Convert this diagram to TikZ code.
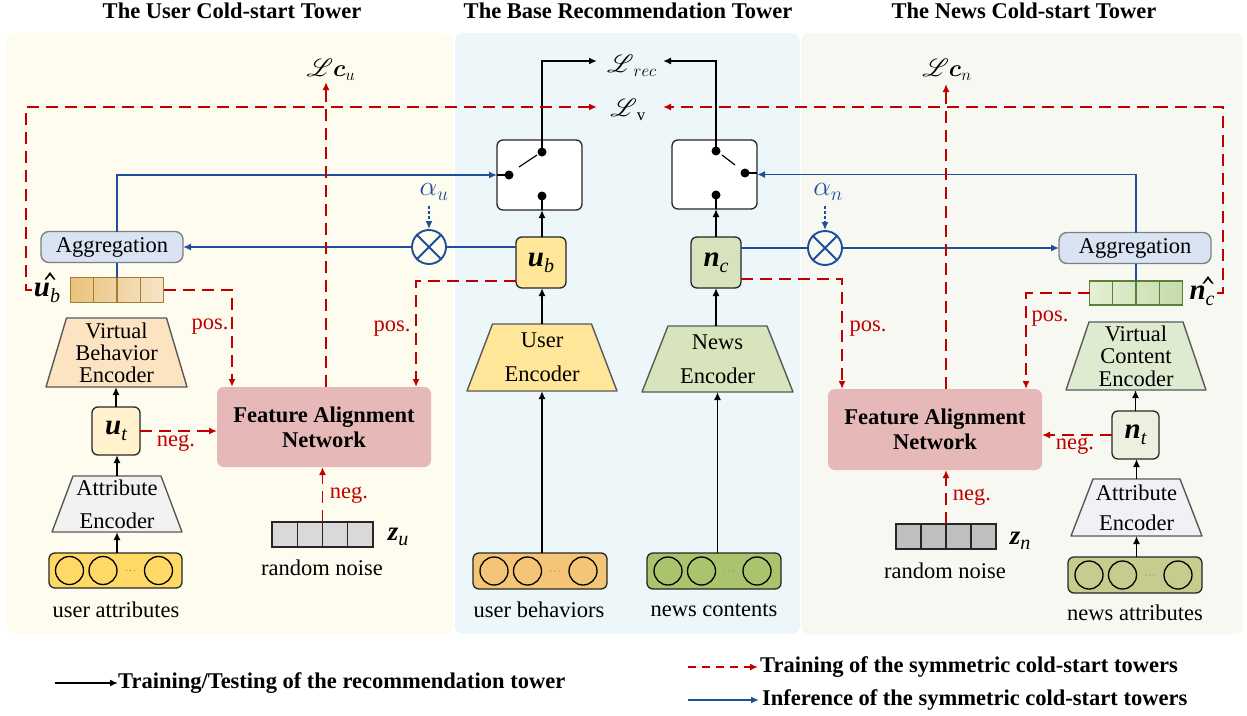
\RequirePackage{fix-cm}
\documentclass[tikz,border=0pt]{standalone}
\usepackage{amsmath}
\usepackage{mathrsfs}
\usepackage{fontspec}
\setmainfont{Liberation Serif}
\usetikzlibrary{arrows.meta,calc}
\pgfdeclarelayer{bg}\pgfdeclarelayer{mid}\pgfsetlayers{bg,mid,main}
\definecolor{redc}{HTML}{C00000}
\definecolor{bluc}{HTML}{1F4E9B}
\definecolor{boxc}{HTML}{262626}
\definecolor{trapc}{HTML}{595959}
\definecolor{aggc}{HTML}{7F7F7F}
\definecolor{leftbg}{HTML}{FEFCEF}
\definecolor{midbg}{HTML}{EDF6F9}
\definecolor{rightbg}{HTML}{F8F8F3}
\definecolor{ubfill}{HTML}{FFE699}
\definecolor{ncfill}{HTML}{D6E3BC}
\definecolor{utfill}{HTML}{FFF2CC}
\definecolor{ntfill}{HTML}{EBF1DE}
\definecolor{aggfill}{HTML}{DAE3F3}
\definecolor{fanfill}{HTML}{E6B8B7}
\definecolor{vbefill}{HTML}{FCE4C2}
\definecolor{vcefill}{HTML}{DEEBD0}
\definecolor{aefill}{HTML}{F2F2F2}
\definecolor{aefillb}{HTML}{F1F1F5}
\definecolor{uefill}{HTML}{FFE699}
\definecolor{nefill}{HTML}{D8E4BC}
\definecolor{uattr}{HTML}{FFD966}
\definecolor{ubeh}{HTML}{F4C477}
\definecolor{ncon}{HTML}{A9C46D}
\definecolor{nattr}{HTML}{C6CB8E}
\definecolor{zufill}{HTML}{D9D9D9}
\definecolor{znfill}{HTML}{BFBFBF}
\definecolor{ubhA}{HTML}{EBC27A}
\definecolor{ubhB}{HTML}{F6E4C8}
\definecolor{ubhD}{HTML}{A08030}
\definecolor{nchA}{HTML}{E4F0D4}
\definecolor{nchB}{HTML}{C4DCAC}
\definecolor{nchD}{HTML}{5E7F3A}
\newcommand{\bv}[2]{{\fontsize{29}{29}\selectfont\bfseries\itshape #1}\raisebox{-6pt}{\fontsize{20}{20}\selectfont\itshape #2}}
\newcommand{\zv}[2]{{\fontsize{27}{27}\selectfont\bfseries\itshape #1}\raisebox{-5pt}{\fontsize{20}{20}\selectfont\itshape #2}}
\newcommand{\trapshape}[3]{%
  \begin{pgfonlayer}{mid}
  \draw[trapd, fill=#3] ([xshift=#2]#1.north west) -- ([xshift=-#2]#1.north east) -- (#1.south east) -- (#1.south west) -- cycle;
  \end{pgfonlayer}}
\newcommand{\cells}[3]{%
  \foreach \k in {1,2,3} \draw[#3, line width=1.3pt] ([xshift=\k*#2]#1.south west) -- ([xshift=\k*#2]#1.north west);}
\newcommand{\inputs}[1]{%
  \foreach \dx in {-46,-12.5,43} \draw[line width=1.3pt] ([xshift=\dx pt]#1.center) circle (14pt);
  \foreach \dd in {-4,0,4} \fill[gray] ([xshift=15pt+\dd pt]#1.center) circle (0.7pt);}
\newcommand{\swdot}[1]{\fill (#1) circle (4.5pt);}
\newcommand{\hatmark}[1]{\fill (#1) ++(-5.5,7.5) -- (#1) -- ++(5.5,7.5) -- ++(-1.8,0) -- ++(-3.7,-4.4) -- ++(-3.7,4.4) -- cycle;}
\begin{document}
\begin{tikzpicture}[x=1pt,y=-1pt,
  font=\fontsize{22.5}{26}\selectfont,
  arr/.style={-{Latex[length=8pt,width=7pt]}},
  blk/.style={draw=black, line width=1.6pt},
  blu/.style={draw=bluc, line width=1.9pt},
  rdash/.style={draw=redc, line width=1.9pt, dash pattern=on 12pt off 7pt},
  sbox/.style={draw=boxc, line width=1.3pt, rounded corners=6pt, inner sep=0pt, outer sep=0pt},
  trapn/.style={inner sep=0pt, outer sep=0pt, align=center},
  trapd/.style={draw=trapc, line width=1.4pt, line join=round},
  aggbox/.style={draw=aggc, fill=aggfill, line width=1.4pt, rounded corners=8pt, minimum height=31pt, inner sep=0pt, outer sep=0pt},
  fanbox/.style={fill=fanfill, rounded corners=7pt, align=center, inner sep=0pt, outer sep=0pt, minimum width=214pt, minimum height=80pt, font=\fontsize{22.5}{25}\selectfont\bfseries},
  lbl/.style={text=redc, inner sep=0pt},
  mathl/.style={font=\fontsize{24}{26}\selectfont},
  alph/.style={text=bluc, font=\fontsize{28}{28}\selectfont},
  vecbox/.style={line width=1.3pt, inner sep=0pt, outer sep=0pt, minimum height=25pt, minimum width=93pt},
  inbox/.style={draw=boxc, line width=1.3pt, rounded corners=6pt, minimum width=134pt, minimum height=36pt, inner sep=0pt, outer sep=0pt},
  title/.style={font=\fontsize{22.5}{26}\selectfont\bfseries},
  legend/.style={font=\fontsize{22.5}{26}\selectfont\bfseries, inner sep=0pt, anchor=west}
]
\useasboundingbox (0,0) rectangle (1247,715);
% panels
\begin{pgfonlayer}{bg}
\fill[leftbg, rounded corners=8pt] (7,33) rectangle (453,634);
\fill[midbg, rounded corners=8pt] (455,33) rectangle (800,634);
\fill[rightbg, rounded corners=8pt] (801,33) rectangle (1243,634);
\end{pgfonlayer}
% titles
\node[title] (t1) at (232,11) {The User Cold-start Tower};
\node[title] (t2) at (628,11) {The Base Recommendation Tower};
\node[title] (t3) at (1024,11) {The News Cold-start Tower};

% loss labels
\node[mathl] (Lrec) at (632,66) {$\boldsymbol{\mathscr{L}}_{rec}$};
\node[mathl] (Lv) at (628,110) {$\boldsymbol{\mathscr{L}}_{\mathrm{v}}$};
\node[mathl] (Lcu) at (331,70) {$\boldsymbol{\mathscr{L}}\boldsymbol{c}_u$};
\node[mathl] (Lcn) at (947,70) {$\boldsymbol{\mathscr{L}}\boldsymbol{c}_n$};
\coordinate (lrecL) at (597,61);
\coordinate (lrecR) at (663,61);
\coordinate (lvL) at (597,107);
\coordinate (lvR) at (663,107);
\coordinate (lcuT) at (326,82);
\coordinate (lcnT) at (946,84);

% switch boxes
\node[sbox, fill=white, minimum width=85pt, minimum height=70pt] (sw1) at (539.5,175) {};
\node[sbox, fill=white, minimum width=85pt, minimum height=69pt] (sw2) at (714.5,174.5) {};
\coordinate (s1t) at (542,152); \coordinate (s1l) at (509,175); \coordinate (s1b) at (542,196);
\coordinate (s2t) at (716,151); \coordinate (s2r) at (745,173); \coordinate (s2b) at (716,195);
\swdot{s1t}\swdot{s1l}\swdot{s1b}\swdot{s2t}\swdot{s2r}\swdot{s2b}
\draw[line width=1.2pt] (sw1.west) -- (s1l);
\draw[line width=1.2pt] (s1b) -- (s1b |- sw1.south);
\draw[line width=1.2pt] (519,167) -- (537,155);
\draw[line width=1.2pt] (sw2.east |- s2r) -- (s2r);
\draw[line width=1.2pt] (s2b) -- (s2b |- sw2.south);
\draw[line width=1.2pt] (722,155) -- (735,165);
\draw[blk, arr] (s1t) |- (lrecL);
\draw[blk, arr] (s2t) |- (lrecR);

% center tower
\node[sbox, fill=ubfill, minimum width=50pt, minimum height=51pt] (ub) at (541,262.5) {\bv{u}{b}};
\node[sbox, fill=ncfill, minimum width=50pt, minimum height=51pt] (nc) at (716,262.5) {\bv{n}{c}};
\node[trapn, minimum width=150pt, minimum height=67pt, font=\fontsize{22.5}{34}\selectfont] (ue) at (542,357.5) {User\\Encoder};
\trapshape{ue}{25.5pt}{uefill}
\node[trapn, minimum width=151pt, minimum height=66pt, font=\fontsize{22.5}{34}\selectfont] (ne) at (717.5,359) {News\\Encoder};
\trapshape{ne}{26pt}{nefill}
\node[inbox, fill=ubeh] (ubeh) at (540,571) {};
\inputs{ubeh}
\node[inbox, fill=ncon] (ncon) at (714,571) {};
\inputs{ncon}
\node (ubehl) at (539,610) {user behaviors};
\node (nconl) at (714,610) {news contents};
\draw[blk, arr] (ubeh.north -| ue.south) -- (ue.south);
\draw[blk, arr] (ncon.north -| ne.south) -- (ne.south);
\draw[blk, arr] (ue.north) -- (ue.north |- ub.south);
\draw[blk, arr] (ne.north -| nc.south) -- (nc.south);
\draw[blk, arr] (ub.north -| s1b) -- (s1b |- sw1.south);
\draw[blk, arr] (nc.north) -- (nc.north |- sw2.south);

% otimes
\node[circle, draw=bluc, line width=1.9pt, minimum size=34pt, inner sep=0pt] (o1) at (429,247) {};
\node[circle, draw=bluc, line width=1.9pt, minimum size=34pt, inner sep=0pt] (o2) at (825,248) {};
\draw[blu] (o1.north west) -- (o1.south east) (o1.north east) -- (o1.south west);
\draw[blu] (o2.north west) -- (o2.south east) (o2.north east) -- (o2.south west);
\node[alph] (au) at (434,192) {$\alpha_u$};
\node[alph] (an) at (828,192) {$\alpha_n$};
\draw[draw=bluc, line width=1.5pt, dash pattern=on 3pt off 2pt, arr] ([yshift=-2pt]au.south -| o1.north) -- (o1.north);
\draw[draw=bluc, line width=1.5pt, dash pattern=on 3pt off 2pt, arr] ([yshift=-2pt]an.south -| o2.north) -- (o2.north);

% left tower
\node[aggbox, minimum width=142pt] (agg1) at (112,247) {Aggregation};
\node[vecbox, draw=ubhD, left color=ubhA, right color=ubhB] (ubh) at (117,290) {};
\cells{ubh}{23.25pt}{ubhD}
\node[inner sep=0pt] (ubhl) at (47,293) {\bv{u}{b}};
\coordinate (ubhat) at (50,272);
\hatmark{ubhat}
\node[trapn, minimum width=141pt, minimum height=69pt, font=\fontsize{22.5}{22}\selectfont] (vbe) at (116.5,352.5) {Virtual\\Behavior\\Encoder};
\trapshape{vbe}{20.5pt}{vbefill}
\node[sbox, fill=utfill, minimum width=48pt, minimum height=48pt] (ut) at (116,431) {\bv{u}{t}};
\node[trapn, minimum width=130pt, minimum height=56pt, font=\fontsize{22.5}{33}\selectfont] (ae1) at (117,504) {Attribute\\Encoder};
\trapshape{ae1}{21pt}{aefill}
\node[inbox, fill=uattr, minimum width=133pt, minimum height=35pt] (ua) at (115.5,570.5) {};
\inputs{ua}
\node (ual) at (116,610) {user attributes};
\draw[blk, arr] (ua.north -| ae1.south) -- (ae1.south);
\draw[blk, arr] (ae1.north) -- (ae1.north |- ut.south);
\draw[blk, arr] (ut.north) -- (ut.north |- vbe.south);

\node[fanbox] (fan1) at (324,427) {Feature Alignment\\Network};
\node[vecbox, draw=boxc, fill=zufill, minimum width=101pt] (zu) at (322.5,534.5) {};
\cells{zu}{25.25pt}{boxc}
\node (zul) at (398,537) {\zv{z}{u}};
\node (zun) at (322,568) {random noise};

% right tower
\node[aggbox, minimum width=152pt] (agg2) at (1135,248) {Aggregation};
\node[vecbox, draw=nchD, left color=nchA, right color=nchB, minimum height=24pt] (nch) at (1136,293) {};
\cells{nch}{23.25pt}{nchD}
\node[inner sep=0pt] (nchl) at (1202,296) {\bv{n}{c}};
\coordinate (nchat) at (1208,276);
\hatmark{nchat}
\node[trapn, minimum width=140pt, minimum height=68pt, font=\fontsize{22.5}{22.5}\selectfont] (vce) at (1136,356) {Virtual\\Content\\Encoder};
\trapshape{vce}{23pt}{vcefill}
\node[sbox, fill=ntfill, minimum width=47pt, minimum height=48pt] (nt) at (1135.5,435) {\bv{n}{t}};
\node[trapn, minimum width=131pt, minimum height=57pt, font=\fontsize{22.5}{30}\selectfont] (ae2) at (1136.5,507.5) {Attribute\\Encoder};
\trapshape{ae2}{22pt}{aefillb}
\node[inbox, fill=nattr] (na) at (1135,575) {};
\inputs{na}
\node (nal) at (1135,613) {news attributes};
\draw[blk, arr] (na.north -| ae2.south) -- (ae2.south);
\draw[blk, arr] (ae2.north) -- (ae2.north |- nt.south);
\draw[blk, arr] (nt.north) -- (nt.north |- vce.south);

\node[fanbox, minimum height=81pt] (fan2) at (935,429.5) {Feature Alignment\\Network};
\node[vecbox, draw=boxc, fill=znfill, minimum width=100pt] (zn) at (946,536.5) {};
\cells{zn}{25pt}{boxc}
\node (znl) at (1020,541) {\zv{z}{n}};
\node (znn) at (945,571) {random noise};

% blue inference paths
\draw[blu] ([yshift=15.5pt]ub.west) -- (o1.east);
\draw[blu, arr] (o1.west) -- (agg1.east);
\draw[blu] (ubh.north) -- (ubh.north |- agg1.south);
\draw[blu, arr] (ubh.north |- agg1.north) |- (sw1.west);
\draw[blu] ([yshift=14.5pt]nc.east) -- (o2.west);
\draw[blu, arr] (o2.east) -- (agg2.west);
\draw[blu] (nch.north) -- (nch.north |- agg2.south);
\draw[blu, arr] (nch.north |- agg2.north) |- (sw2.east);

% red training paths (left)
\draw[rdash, arr] ([xshift=-2pt,yshift=3pt]ubhl.west) -- ([xshift=-8pt,yshift=3pt]ubhl.west) |- (lvL);
\draw[rdash, arr] (ubh.east) -| ([xshift=-92pt]fan1.north);
\draw[rdash, arr] ([yshift=-18.5pt]ub.west) -| ([xshift=92pt]fan1.north);
\draw[rdash, arr] (ut.east) -- (ut.east -| fan1.west);
\draw[rdash, arr] (zu.north) -- (zu.north |- fan1.south);
\draw[rdash, arr] ([xshift=2pt]fan1.north) -- (lcuT);
\node[lbl] (p1) at (210,327) {pos.};
\node[lbl] (p2) at (392,329) {pos.};
\node[lbl] (n1) at (176,443) {neg.};
\node[lbl] (n2) at (349,495) {neg.};

% red training paths (right)
\draw[rdash, arr] ([xshift=2pt,yshift=3pt]nchl.east) -- ([xshift=8pt,yshift=3pt]nchl.east) |- (lvR);
\draw[rdash, arr] (nch.west) -| ([xshift=91pt]fan2.north);
\draw[rdash, arr] ([yshift=-16.5pt]nc.east) -| ([xshift=-93pt]fan2.north);
\draw[rdash, arr] (nt.west) -- (nt.west -| fan2.east);
\draw[rdash, arr] (zn.north) -- (zn.north |- fan2.south);
\draw[rdash, arr] ([xshift=11pt]fan2.north) -- (lcnT);
\node[lbl] (p3) at (868,329) {pos.};
\node[lbl] (p4) at (1050,319) {pos.};
\node[lbl] (n3) at (1075,446) {neg.};
\node[lbl] (n4) at (972,497) {neg.};

% legend
\node[legend] (lg1) at (118,683) {Training/Testing of the recommendation tower};
\node[legend] (lg2) at (760,667) {Training of the symmetric cold-start towers};
\node[legend] (lg3) at (762,700) {Inference of the symmetric cold-start towers};
\draw[blk, arr] ([xshift=-63pt]lg1.west) -- (lg1.west);
\draw[draw=redc, line width=1.8pt, dash pattern=on 8pt off 6pt, arr] ([xshift=-72pt]lg2.west) -- ([xshift=-2pt]lg2.west);
\draw[blu, arr] ([xshift=-74pt]lg3.west) -- ([xshift=-3pt]lg3.west);
\end{tikzpicture}
\end{document}
